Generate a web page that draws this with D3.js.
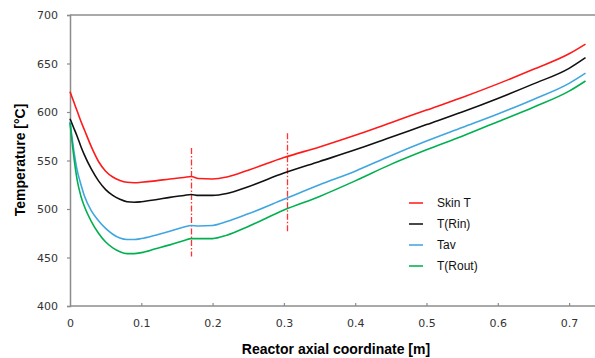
<!DOCTYPE html>
<html>
<head>
<meta charset="utf-8">
<script src="https://cdn.jsdelivr.net/npm/d3@7"></script>
<style>
  body { margin: 0; background: #fff; }
  svg { display: block; }
</style>
</head>
<body>
<div id="chart"></div>
<script>
// axial positions [m] shared by all four profiles
const xPos = [0, 0.005, 0.01, 0.015, 0.02, 0.03, 0.04, 0.05, 0.06, 0.07, 0.08, 0.09, 0.1,
	0.12, 0.14, 0.16, 0.17, 0.18, 0.2, 0.22, 0.25, 0.3, 0.35, 0.4, 0.45, 0.5, 0.55, 0.6, 0.65, 0.7, 0.723];

// temperatures [°C]
const skinT = [621, 611, 601, 591, 582, 564, 549, 539, 533, 529.5, 527.5, 527, 527.5,
	529, 531, 532.5, 533.5, 531.5, 531, 533, 540, 553, 564, 576, 589, 602, 615, 629, 644, 660, 670];
const tRin = [593, 584, 575, 565, 556, 541, 529, 520, 514, 510, 507.5, 507, 507.5,
	509.5, 512, 514, 515, 514, 514, 516, 523, 537, 549, 561, 574, 587, 600, 614, 629, 645, 656];
const tAv = [590, 562, 540, 526, 514, 498, 488, 480, 474, 470, 468.5, 468.5, 469.5,
	473, 477, 481.5, 483, 482.5, 483, 487, 495, 510, 525, 539, 555, 570, 584, 598, 613, 629.5, 640];
const tRout = [589, 556, 530, 514, 503, 487, 475, 466, 460, 456, 454, 454, 455,
	459, 463, 467.5, 469.5, 469.5, 469.5, 473, 482, 499, 513, 529, 546, 561, 575, 590, 605, 621.5, 632];

const seriesNames = ['Skin T', 'T(Rin)', 'Tav', 'T(Rout)'];
const seriesColors = ['#ff1a1a', '#111111', '#3fa6e0', '#00b050'];
const xTicks = [0, 0.1, 0.2, 0.3, 0.4, 0.5, 0.6, 0.7];
const yTicks = [400, 450, 500, 550, 600, 650, 700];
// dash-dot markers: [x, top temperature, bottom temperature]
const markers = [[0.17, 563, 451], [0.305, 578, 475]];

const W = 595, H = 358;
const margin = {top: 15, right: 0, bottom: 52, left: 70};

const svg = d3.select('#chart').append('svg').attr('width', W).attr('height', H);

const x = d3.scaleLinear().domain([0, 0.74]).range([margin.left, margin.left + 0.74 * 713]);
const y = d3.scaleLinear().domain([400, 700]).range([H - margin.bottom, margin.top]);

const axisColor = '#8c8c8c';

// top frame line
svg.append('line')
	.attr('x1', x(0)).attr('x2', W)
	.attr('y1', y(700)).attr('y2', y(700))
	.attr('stroke', axisColor).attr('stroke-width', 1.5);

// y axis, ticks outward
const yAxis = svg.append('g')
	.attr('transform', 'translate(' + x(0) + ',0)')
	.call(d3.axisLeft(y).tickValues(yTicks).tickSize(3).tickPadding(9));
// x axis, ticks inward
const xAxis = svg.append('g')
	.attr('transform', 'translate(0,' + y(400) + ')')
	.call(d3.axisBottom(x).tickValues(xTicks).tickSize(-3).tickPadding(13).tickFormat(d3.format('')));

[xAxis, yAxis].forEach(function(g){
	g.select('.domain').attr('stroke', axisColor).attr('stroke-width', 1.5);
	g.selectAll('.tick line').attr('stroke', axisColor).attr('stroke-width', 1.2);
	g.selectAll('.tick text')
		.attr('fill', '#333')
		.style('font-family', 'DejaVu Sans')
		.style('font-size', '11px');
});
xAxis.select('.domain').attr('d', 'M' + x(0) + ',0H' + W);
xAxis.selectAll('.tick').filter(d => d === 0).select('line').remove();

// dash-dot markers
markers.forEach(function(m){
	let mx = Math.round(x(m[0])) + 0.5;
	svg.append('line')
		.attr('x1', mx).attr('x2', mx)
		.attr('y1', y(m[1])).attr('y2', y(m[2]))
		.attr('stroke', '#ff3333').attr('stroke-width', 1.3)
		.attr('stroke-dasharray', '6,2,1.5,2');
});

// profiles
const line = d3.line().curve(d3.curveMonotoneX)
	.x(d => x(d[0])).y(d => y(d[1]));
[skinT, tRin, tAv, tRout].forEach(function(vals, si){
	svg.append('path')
		.datum(xPos.map((xv, i) => [xv, vals[i]]))
		.attr('fill', 'none')
		.attr('stroke', seriesColors[si])
		.attr('stroke-width', 1.6)
		.attr('d', line);
});

// legend
const legend = svg.append('g').attr('transform', 'translate(409,203)');
seriesNames.forEach(function(n, i){
	const g = legend.append('g').attr('transform', 'translate(0,' + (i * 21) + ')');
	g.append('line').attr('x1', 0).attr('x2', 14).attr('y1', 0).attr('y2', 0)
		.attr('stroke', seriesColors[i]).attr('stroke-width', 1.8).attr('opacity', 0.85);
	g.append('text').attr('x', 28).attr('y', 0).attr('dy', '0.35em')
		.style('font-family', 'Liberation Sans, Arial, sans-serif')
		.style('font-size', '12px').attr('fill', '#111')
		.text(n);
});

// axis titles
svg.append('text')
	.attr('x', 336).attr('y', 354)
	.attr('text-anchor', 'middle')
	.style('font-family', 'Liberation Sans, Arial, sans-serif')
	.style('font-size', '14px').style('font-weight', 'bold')
	.text('Reactor axial coordinate [m]');
svg.append('text')
	.attr('transform', 'translate(25,160) rotate(-90)')
	.attr('text-anchor', 'middle')
	.style('font-family', 'Liberation Sans, Arial, sans-serif')
	.style('font-size', '14px').style('font-weight', 'bold')
	.text('Temperature [°C]');
</script>
</body>
</html>
